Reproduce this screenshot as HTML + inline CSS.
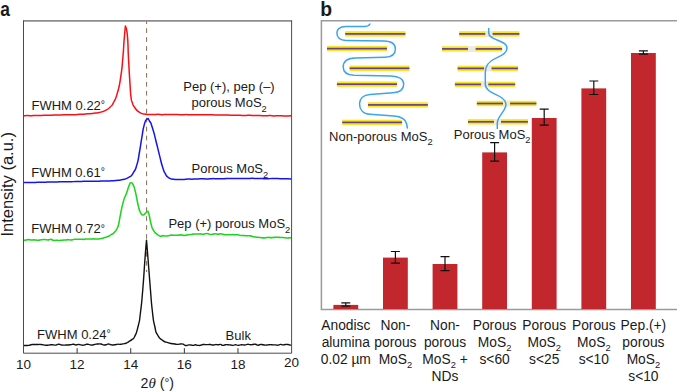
<!DOCTYPE html>
<html><head><meta charset="utf-8"><title>figure</title>
<style>
html,body{margin:0;padding:0;background:#fff;}
body{width:677px;height:391px;overflow:hidden;}
svg{display:block;}
text{font-family:"Liberation Sans",sans-serif;fill:#1a1a1a;}
.t13{font-size:13px;}
.tk{font-size:13.5px;}
.bl{font-size:13.8px;}
.sub{font-size:9.3px;}
</style></head><body>
<svg width="677" height="391" viewBox="0 0 677 391">
<rect width="677" height="391" fill="#fff"/>

<text transform="translate(0.3,15.5) scale(0.87,1.03)" font-size="20" font-weight="bold" fill="#000">a</text>
<text transform="translate(320.2,15.5) scale(0.97,1.03)" font-size="20" font-weight="bold" fill="#000">b</text>
<line x1="146.6" y1="21" x2="146.6" y2="272" stroke="#8a6b52" stroke-width="1" stroke-dasharray="4.7 4.25" stroke-dashoffset="1.7"/>
<path d="M23.50,115.75 C24.83,115.70 24.83,115.63 27.50,115.61 C30.17,115.58 28.83,115.74 31.50,115.67 C34.17,115.60 32.83,115.48 35.50,115.41 C38.17,115.34 36.83,115.49 39.50,115.46 C42.17,115.43 40.83,115.43 43.50,115.32 C46.17,115.22 44.83,115.19 47.50,115.14 C50.17,115.10 48.83,115.25 51.50,115.19 C54.17,115.13 52.83,115.03 55.50,114.96 C58.17,114.89 56.83,115.05 59.50,114.99 C62.17,114.93 60.83,114.88 63.50,114.78 C66.17,114.67 64.83,114.71 67.50,114.67 C70.17,114.64 68.83,114.66 71.50,114.66 C74.17,114.66 72.83,114.78 75.50,114.68 C78.17,114.57 76.83,114.53 79.50,114.36 C82.17,114.18 80.83,114.32 83.50,114.16 C86.17,114.00 84.83,114.08 87.50,113.87 C90.17,113.67 88.83,113.84 91.50,113.56 C94.17,113.28 93.33,113.31 95.50,113.04 C97.67,112.77 96.00,113.14 98.00,112.76 C100.00,112.38 98.97,112.72 101.50,111.90 C104.03,111.08 102.77,111.87 105.60,110.30 C108.43,108.73 107.27,109.97 110.00,107.20 C112.73,104.43 111.23,107.13 113.80,102.00 C116.37,96.87 115.37,100.33 117.70,91.80 C120.03,83.27 119.10,87.50 120.80,76.40 C122.50,65.30 121.70,70.47 122.80,58.50 C123.90,46.53 123.23,51.37 124.10,40.50 C124.97,29.63 124.97,30.77 125.40,25.90 L125.40,25.90 C126.07,29.13 126.37,24.73 127.40,35.60 C128.43,46.47 127.63,42.37 128.50,58.50 C129.37,74.63 129.17,71.17 130.00,84.00 C130.83,96.83 130.23,90.83 131.00,97.00 C131.77,103.17 131.17,99.17 132.30,102.50 C133.43,105.83 132.00,103.73 134.40,107.00 C136.80,110.27 135.67,109.87 139.50,112.30 C143.33,114.73 142.40,113.60 145.90,114.30 C149.40,115.00 147.30,114.30 150.00,114.40 C152.70,114.50 151.33,114.62 154.00,114.60 C156.67,114.59 155.33,114.34 158.00,114.35 C160.67,114.36 159.33,114.58 162.00,114.63 C164.67,114.67 163.33,114.54 166.00,114.49 C168.67,114.43 167.33,114.47 170.00,114.47 C172.67,114.47 171.33,114.46 174.00,114.49 C176.67,114.53 175.33,114.49 178.00,114.58 C180.67,114.67 179.33,114.75 182.00,114.76 C184.67,114.77 183.33,114.60 186.00,114.60 C188.67,114.60 187.33,114.68 190.00,114.75 C192.67,114.82 191.33,114.80 194.00,114.80 C196.67,114.80 195.33,114.73 198.00,114.75 C200.67,114.76 199.33,114.84 202.00,114.84 C204.67,114.84 203.33,114.76 206.00,114.74 C208.67,114.72 207.33,114.74 210.00,114.79 C212.67,114.83 211.33,114.79 214.00,114.88 C216.67,114.97 215.33,115.02 218.00,115.07 C220.67,115.12 219.33,115.05 222.00,115.04 C224.67,115.04 223.33,115.01 226.00,115.06 C228.67,115.10 227.33,115.14 230.00,115.19 C232.67,115.23 231.33,115.19 234.00,115.19 C236.67,115.20 235.33,115.13 238.00,115.20 C240.67,115.26 239.33,115.32 242.00,115.39 C244.67,115.46 243.33,115.43 246.00,115.41 C248.67,115.39 247.33,115.30 250.00,115.32 C252.67,115.35 251.33,115.41 254.00,115.48 C256.67,115.55 255.33,115.45 258.00,115.52 C260.67,115.59 259.33,115.63 262.00,115.69 C264.67,115.74 263.33,115.72 266.00,115.70 C268.67,115.68 267.33,115.56 270.00,115.62 C272.67,115.69 271.33,115.87 274.00,115.89 C276.67,115.91 275.33,115.71 278.00,115.69 C280.67,115.67 279.33,115.73 282.00,115.84 C284.67,115.94 283.33,115.98 286.00,116.00 C288.67,116.01 288.13,115.87 290.00,115.87 C291.87,115.87 291.07,115.96 291.60,116.00" fill="none" stroke="#fa0f14" stroke-width="1.5" stroke-linejoin="round" stroke-linecap="butt"/>
<path d="M23.50,182.60 C24.83,182.53 24.83,182.45 27.50,182.41 C30.17,182.37 28.83,182.47 31.50,182.47 C34.17,182.48 32.83,182.48 35.50,182.42 C38.17,182.35 36.83,182.33 39.50,182.29 C42.17,182.24 40.83,182.35 43.50,182.28 C46.17,182.20 44.83,182.13 47.50,182.06 C50.17,181.99 48.83,182.10 51.50,182.07 C54.17,182.03 52.83,182.02 55.50,181.96 C58.17,181.90 56.83,181.94 59.50,181.87 C62.17,181.81 60.83,181.80 63.50,181.76 C66.17,181.73 64.83,181.79 67.50,181.77 C70.17,181.76 68.83,181.80 71.50,181.72 C74.17,181.64 72.83,181.61 75.50,181.53 C78.17,181.46 76.83,181.59 79.50,181.51 C82.17,181.42 80.83,181.33 83.50,181.29 C86.17,181.24 84.83,181.37 87.50,181.37 C90.17,181.36 88.83,181.30 91.50,181.28 C94.17,181.25 92.83,181.32 95.50,181.29 C98.17,181.25 96.83,181.28 99.50,181.17 C102.17,181.06 100.83,181.05 103.50,180.97 C106.17,180.88 106.00,180.93 107.50,180.92 C109.00,180.90 107.23,180.94 108.00,180.93 C108.77,180.93 107.13,181.08 109.80,180.90 C112.47,180.72 112.07,180.80 116.00,180.40 C119.93,180.00 117.37,180.70 121.60,179.70 C125.83,178.70 124.77,179.77 128.70,177.40 C132.63,175.03 130.63,176.93 133.40,172.60 C136.17,168.27 135.00,171.10 137.00,164.40 C139.00,157.70 137.83,161.17 139.40,152.50 C140.97,143.83 140.13,147.43 141.70,138.40 C143.27,129.37 142.37,131.77 144.10,125.40 C145.83,119.03 145.10,120.77 146.90,119.30 C148.70,117.83 147.67,118.20 149.50,121.00 C151.33,123.80 150.27,121.13 152.40,127.70 C154.53,134.27 153.57,131.63 155.90,140.70 C158.23,149.77 157.20,146.23 159.40,154.90 C161.60,163.57 160.50,160.40 162.50,166.70 C164.50,173.00 163.27,170.10 165.40,173.80 C167.53,177.50 166.17,175.97 168.90,177.80 C171.63,179.63 169.90,178.77 173.60,179.30 C177.30,179.83 176.53,179.37 180.00,179.40 C183.47,179.43 181.33,179.50 184.00,179.39 C186.67,179.27 185.33,179.13 188.00,179.05 C190.67,178.97 189.33,179.18 192.00,179.14 C194.67,179.11 193.33,179.05 196.00,178.95 C198.67,178.85 197.33,178.91 200.00,178.85 C202.67,178.79 201.33,178.72 204.00,178.76 C206.67,178.81 205.33,179.02 208.00,178.99 C210.67,178.96 209.33,178.78 212.00,178.67 C214.67,178.56 213.33,178.66 216.00,178.66 C218.67,178.65 217.33,178.61 220.00,178.66 C222.67,178.70 221.33,178.87 224.00,178.79 C226.67,178.71 225.33,178.51 228.00,178.41 C230.67,178.32 229.33,178.48 232.00,178.50 C234.67,178.52 233.33,178.46 236.00,178.48 C238.67,178.50 237.33,178.53 240.00,178.55 C242.67,178.58 241.33,178.54 244.00,178.55 C246.67,178.56 245.33,178.64 248.00,178.58 C250.67,178.52 249.33,178.41 252.00,178.37 C254.67,178.32 253.33,178.42 256.00,178.44 C258.67,178.46 257.33,178.35 260.00,178.43 C262.67,178.52 261.33,178.57 264.00,178.68 C266.67,178.79 265.33,178.83 268.00,178.76 C270.67,178.70 269.33,178.56 272.00,178.50 C274.67,178.43 273.33,178.51 276.00,178.56 C278.67,178.61 277.33,178.59 280.00,178.64 C282.67,178.68 281.33,178.62 284.00,178.69 C286.67,178.76 285.47,178.78 288.00,178.85 C290.53,178.92 290.40,178.88 291.60,178.90" fill="none" stroke="#1414f0" stroke-width="1.5" stroke-linejoin="round" stroke-linecap="butt"/>
<path d="M23.50,240.29 C24.33,240.16 24.33,240.14 26.00,239.92 C27.67,239.69 26.83,239.59 28.50,239.61 C30.17,239.63 29.33,239.89 31.00,239.98 C32.67,240.07 31.83,239.89 33.50,239.88 C35.17,239.88 34.33,239.86 36.00,239.97 C37.67,240.08 36.83,240.27 38.50,240.22 C40.17,240.18 39.33,240.06 41.00,239.83 C42.67,239.59 41.83,239.56 43.50,239.52 C45.17,239.48 44.33,239.60 46.00,239.72 C47.67,239.84 46.83,240.00 48.50,239.88 C50.17,239.76 49.33,239.22 51.00,239.36 C52.67,239.51 51.83,240.01 53.50,240.32 C55.17,240.62 54.33,240.26 56.00,240.28 C57.67,240.31 56.83,240.38 58.50,240.40 C60.17,240.42 59.33,240.49 61.00,240.34 C62.67,240.20 61.83,240.08 63.50,239.96 C65.17,239.84 64.33,240.09 66.00,239.99 C67.67,239.89 66.83,239.62 68.50,239.65 C70.17,239.68 69.33,240.16 71.00,240.08 C72.67,239.99 71.83,239.66 73.50,239.40 C75.17,239.14 74.33,239.32 76.00,239.30 C77.67,239.28 76.83,239.36 78.50,239.33 C80.17,239.31 79.33,239.22 81.00,239.23 C82.67,239.24 81.83,239.43 83.50,239.37 C85.17,239.30 84.33,239.18 86.00,239.04 C87.67,238.89 86.83,238.94 88.50,238.94 C90.17,238.94 89.33,239.07 91.00,239.05 C92.67,239.02 91.83,238.88 93.50,238.86 C95.17,238.84 94.50,238.93 96.00,238.98 C97.50,239.03 96.67,239.07 98.00,239.01 C99.33,238.95 97.83,239.27 100.00,238.80 C102.17,238.33 101.83,238.40 104.50,237.60 C107.17,236.80 105.83,237.33 108.00,236.40 C110.17,235.47 108.83,236.17 111.00,234.80 C113.17,233.43 112.40,234.57 114.50,232.30 C116.60,230.03 115.87,230.93 117.30,228.00 C118.73,225.07 117.77,227.87 118.80,223.50 C119.83,219.13 118.90,222.10 120.40,214.90 C121.90,207.70 121.30,209.00 123.30,201.90 C125.30,194.80 124.43,199.10 126.40,193.60 C128.37,188.10 127.63,188.93 129.20,185.40 C130.77,181.87 129.70,183.00 131.10,183.00 C132.50,183.00 131.83,181.87 133.40,185.40 C134.97,188.93 134.20,186.90 135.80,193.60 C137.40,200.30 136.63,199.20 138.20,205.50 C139.77,211.80 138.93,209.37 140.50,212.50 C142.07,215.63 141.30,214.63 142.90,214.90 C144.50,215.17 143.87,214.33 145.30,213.30 C146.73,212.27 146.03,211.67 147.20,211.80 C148.37,211.93 147.47,209.50 148.80,213.70 C150.13,217.90 149.63,218.87 151.20,224.40 C152.77,229.93 151.53,227.00 153.50,230.30 C155.47,233.60 154.73,232.33 157.10,234.30 C159.47,236.27 158.63,235.76 160.60,236.20 C162.57,236.64 161.37,235.66 163.00,235.62 C164.63,235.58 163.83,236.07 165.50,236.09 C167.17,236.10 166.33,235.97 168.00,235.67 C169.67,235.36 168.83,235.33 170.50,235.18 C172.17,235.02 171.33,235.18 173.00,235.19 C174.67,235.20 173.83,235.21 175.50,235.20 C177.17,235.18 176.33,235.26 178.00,235.15 C179.67,235.04 178.83,234.81 180.50,234.87 C182.17,234.93 181.33,235.17 183.00,235.31 C184.67,235.45 183.83,235.48 185.50,235.29 C187.17,235.09 186.33,234.96 188.00,234.73 C189.67,234.50 188.83,234.80 190.50,234.60 C192.17,234.41 191.33,234.34 193.00,234.14 C194.67,233.95 193.83,234.04 195.50,234.02 C197.17,233.99 196.33,234.12 198.00,234.07 C199.67,234.02 198.83,233.80 200.50,233.87 C202.17,233.94 201.33,234.31 203.00,234.28 C204.67,234.24 203.83,233.97 205.50,233.77 C207.17,233.57 206.33,233.45 208.00,233.68 C209.67,233.91 208.83,234.30 210.50,234.45 C212.17,234.60 211.33,234.33 213.00,234.13 C214.67,233.93 213.83,233.83 215.50,233.85 C217.17,233.87 216.33,234.21 218.00,234.19 C219.67,234.17 218.83,233.78 220.50,233.80 C222.17,233.82 221.33,233.92 223.00,234.24 C224.67,234.56 223.83,234.56 225.50,234.75 C227.17,234.94 226.33,234.78 228.00,234.80 C229.67,234.83 228.83,234.88 230.50,234.82 C232.17,234.76 231.33,234.61 233.00,234.62 C234.67,234.63 233.83,234.78 235.50,234.85 C237.17,234.92 236.33,234.63 238.00,234.84 C239.67,235.04 238.83,235.27 240.50,235.47 C242.17,235.66 241.33,235.32 243.00,235.43 C244.67,235.53 243.83,235.69 245.50,235.77 C247.17,235.85 246.33,235.62 248.00,235.66 C249.67,235.69 248.83,235.54 250.50,235.88 C252.17,236.21 251.33,236.24 253.00,236.65 C254.67,237.05 253.83,236.88 255.50,237.09 C257.17,237.30 256.33,237.13 258.00,237.29 C259.67,237.44 258.83,237.37 260.50,237.55 C262.17,237.74 261.33,237.77 263.00,237.86 C264.67,237.94 263.83,237.95 265.50,237.80 C267.17,237.65 266.33,237.45 268.00,237.40 C269.67,237.35 268.83,237.60 270.50,237.64 C272.17,237.68 271.33,237.64 273.00,237.52 C274.67,237.40 273.83,237.35 275.50,237.27 C277.17,237.19 276.33,237.20 278.00,237.27 C279.67,237.35 278.83,237.42 280.50,237.48 C282.17,237.55 281.33,237.36 283.00,237.48 C284.67,237.59 283.83,237.64 285.50,237.83 C287.17,238.02 286.33,238.11 288.00,238.05 C289.67,237.99 289.30,237.77 290.50,237.65 C291.70,237.54 291.23,237.68 291.60,237.70" fill="none" stroke="#1fd41f" stroke-width="1.55" stroke-linejoin="round" stroke-linecap="butt"/>
<path d="M23.50,345.42 C24.33,345.44 24.33,345.47 26.00,345.47 C27.67,345.47 26.83,345.68 28.50,345.42 C30.17,345.16 29.33,345.00 31.00,344.69 C32.67,344.39 31.83,344.57 33.50,344.51 C35.17,344.44 34.33,344.52 36.00,344.50 C37.67,344.48 36.83,344.47 38.50,344.45 C40.17,344.43 39.33,344.28 41.00,344.44 C42.67,344.60 41.83,344.66 43.50,344.93 C45.17,345.20 44.33,345.17 46.00,345.25 C47.67,345.33 46.83,345.34 48.50,345.16 C50.17,344.98 49.33,344.80 51.00,344.72 C52.67,344.63 51.83,344.79 53.50,344.91 C55.17,345.03 54.33,345.31 56.00,345.07 C57.67,344.83 56.83,344.26 58.50,344.20 C60.17,344.13 59.33,344.55 61.00,344.87 C62.67,345.19 61.83,345.12 63.50,345.16 C65.17,345.20 64.33,345.06 66.00,344.99 C67.67,344.92 66.83,345.07 68.50,344.94 C70.17,344.81 69.33,344.84 71.00,344.60 C72.67,344.36 71.83,344.11 73.50,344.22 C75.17,344.34 74.33,344.89 76.00,344.94 C77.67,344.99 76.83,344.38 78.50,344.38 C80.17,344.37 79.33,344.68 81.00,344.93 C82.67,345.17 81.83,345.29 83.50,345.12 C85.17,344.94 84.33,344.65 86.00,344.41 C87.67,344.17 86.83,344.19 88.50,344.40 C90.17,344.61 89.33,344.92 91.00,345.04 C92.67,345.16 91.83,345.08 93.50,344.76 C95.17,344.44 94.33,344.33 96.00,344.08 C97.67,343.83 96.83,344.03 98.50,344.02 C100.17,344.00 99.33,343.73 101.00,344.03 C102.67,344.33 101.83,344.67 103.50,344.92 C105.17,345.17 104.33,345.10 106.00,344.79 C107.67,344.47 106.83,343.98 108.50,343.98 C110.17,343.98 109.33,344.46 111.00,344.78 C112.67,345.11 111.83,345.03 113.50,344.95 C115.17,344.87 114.33,344.81 116.00,344.55 C117.67,344.29 117.17,344.24 118.50,344.17 C119.83,344.10 118.53,344.43 120.00,344.34 C121.47,344.25 120.73,344.35 122.90,343.90 C125.07,343.45 124.53,343.77 126.50,343.00 C128.47,342.23 127.03,342.73 128.80,341.60 C130.57,340.47 129.83,341.30 131.80,339.60 C133.77,337.90 132.57,341.03 134.70,336.50 C136.83,331.97 136.23,334.33 138.20,326.00 C140.17,317.67 139.03,324.17 140.60,311.50 C142.17,298.83 141.43,305.67 142.90,288.00 C144.37,270.33 143.80,274.43 145.00,258.50 C146.20,242.57 146.00,246.30 146.50,240.20 L146.50,240.20 C147.00,246.30 146.73,242.57 148.00,258.50 C149.27,274.43 148.83,270.33 150.30,288.00 C151.77,305.67 150.93,298.83 152.40,311.50 C153.87,324.17 152.97,318.17 154.70,326.00 C156.43,333.83 154.97,330.23 157.60,335.00 C160.23,339.77 158.97,337.70 162.60,340.30 C166.23,342.90 164.37,341.57 168.50,342.80 C172.63,344.03 171.83,343.49 175.00,344.00 C178.17,344.51 176.17,344.31 178.00,344.33 C179.83,344.35 178.83,344.12 180.50,344.05 C182.17,343.99 181.33,343.67 183.00,344.14 C184.67,344.61 183.83,345.15 185.50,345.46 C187.17,345.78 186.33,345.26 188.00,345.08 C189.67,344.90 188.83,344.81 190.50,344.93 C192.17,345.04 191.33,345.45 193.00,345.41 C194.67,345.37 193.83,344.84 195.50,344.81 C197.17,344.78 196.33,345.18 198.00,345.33 C199.67,345.49 198.83,345.54 200.50,345.28 C202.17,345.01 201.33,344.77 203.00,344.54 C204.67,344.31 203.83,344.55 205.50,344.58 C207.17,344.61 206.33,344.64 208.00,344.63 C209.67,344.62 208.83,344.45 210.50,344.56 C212.17,344.68 211.33,344.97 213.00,344.98 C214.67,344.98 213.83,344.65 215.50,344.58 C217.17,344.51 216.33,344.82 218.00,344.77 C219.67,344.72 218.83,344.23 220.50,344.42 C222.17,344.62 221.33,345.27 223.00,345.36 C224.67,345.44 223.83,344.87 225.50,344.69 C227.17,344.50 226.33,344.72 228.00,344.81 C229.67,344.90 228.83,344.78 230.50,344.96 C232.17,345.13 231.33,345.41 233.00,345.34 C234.67,345.27 233.83,344.75 235.50,344.76 C237.17,344.76 236.33,345.32 238.00,345.35 C239.67,345.38 238.83,345.01 240.50,344.85 C242.17,344.69 241.33,344.88 243.00,344.88 C244.67,344.89 243.83,345.08 245.50,344.87 C247.17,344.66 246.33,344.30 248.00,344.26 C249.67,344.23 248.83,344.70 250.50,344.77 C252.17,344.83 251.33,344.63 253.00,344.46 C254.67,344.28 253.83,343.99 255.50,344.24 C257.17,344.48 256.33,345.12 258.00,345.19 C259.67,345.26 258.83,344.57 260.50,344.44 C262.17,344.30 261.33,344.58 263.00,344.80 C264.67,345.01 263.83,345.06 265.50,345.09 C267.17,345.13 266.33,345.05 268.00,344.89 C269.67,344.73 268.83,344.63 270.50,344.61 C272.17,344.59 271.33,344.75 273.00,344.84 C274.67,344.93 273.83,344.78 275.50,344.88 C277.17,344.99 276.33,345.34 278.00,345.15 C279.67,344.97 278.83,344.43 280.50,344.34 C282.17,344.25 281.33,344.83 283.00,344.88 C284.67,344.94 283.83,344.62 285.50,344.50 C287.17,344.39 286.33,344.33 288.00,344.54 C289.67,344.74 289.30,345.04 290.50,345.13 C291.70,345.22 291.23,344.91 291.60,344.80" fill="none" stroke="#111111" stroke-width="1.4" stroke-linejoin="round" stroke-linecap="butt"/>
<line x1="23.0" y1="20.900000000000002" x2="292.1" y2="20.900000000000002" stroke="#8c8c8c" stroke-width="1.6"/>
<path d="M23.5,20.6 V353.2 H291.6 V20.6" fill="none" stroke="#4a4a4a" stroke-width="1"/>
<line x1="77.12" y1="353.2" x2="77.12" y2="348.2" stroke="#333" stroke-width="1"/>
<line x1="130.74" y1="353.2" x2="130.74" y2="348.2" stroke="#333" stroke-width="1"/>
<line x1="184.36" y1="353.2" x2="184.36" y2="348.2" stroke="#333" stroke-width="1"/>
<line x1="237.98" y1="353.2" x2="237.98" y2="348.2" stroke="#333" stroke-width="1"/>
<text class="tk" x="23.50" y="369" text-anchor="middle">10</text>
<text class="tk" x="77.12" y="369" text-anchor="middle">12</text>
<text class="tk" x="130.74" y="369" text-anchor="middle">14</text>
<text class="tk" x="184.36" y="369" text-anchor="middle">16</text>
<text class="tk" x="237.98" y="369" text-anchor="middle">18</text>
<text class="tk" x="291.5" y="366.8" text-anchor="middle">20</text>
<text x="140.6" y="387.7" font-size="14.2">2<tspan font-family="Liberation Serif" font-style="italic" font-size="15">θ</tspan> (<tspan font-size="12" dy="-1">°</tspan><tspan dy="1">)</tspan></text>
<text transform="translate(12.6,236.6) rotate(-90)" font-size="16.5">Intensity (a.u.)</text>
<text class="t13" x="31.5" y="110">FWHM 0.22<tspan font-size="10.5" dy="-1.9">°</tspan></text>
<text class="t13" x="31.3" y="176.9">FWHM 0.61<tspan font-size="10.5" dy="-1.9">°</tspan></text>
<text class="t13" x="31.3" y="233.4">FWHM 0.72<tspan font-size="10.5" dy="-1.9">°</tspan></text>
<text class="t13" x="37.1" y="338.9">FWHM 0.24<tspan font-size="10.5" dy="-1.9">°</tspan></text>
<text class="t13" x="229" y="91.4" text-anchor="middle">Pep (+), pep (–)</text>
<text class="t13" x="191.5" y="107.3">porous MoS<tspan class="sub" dy="4.3">2</tspan></text>
<text class="t13" x="191.5" y="173.3">Porous MoS<tspan class="sub" dy="4.3">2</tspan></text>
<text class="t13" x="168.4" y="228.3">Pep (+) porous MoS<tspan class="sub" dy="4.3">2</tspan></text>
<text class="t13" x="225.6" y="339.8">Bulk</text>
<path d="M677,20.7 H321.4 V309.5 H677" fill="none" stroke="#9a9a9a" stroke-width="1.5"/>
<rect x="333.40" y="304.90" width="24.8" height="4.10" fill="#c1272d"/>
<path d="M341.30,302.80 H350.30 M345.80,302.80 V306.20 M341.30,306.20 H350.30" stroke="#111" stroke-width="1.2" fill="none"/>
<rect x="383.00" y="257.60" width="24.8" height="51.40" fill="#c1272d"/>
<path d="M390.90,251.50 H399.90 M395.40,251.50 V263.20 M390.90,263.20 H399.90" stroke="#111" stroke-width="1.2" fill="none"/>
<rect x="432.60" y="264.00" width="24.8" height="45.00" fill="#c1272d"/>
<path d="M440.50,256.60 H449.50 M445.00,256.60 V270.60 M440.50,270.60 H449.50" stroke="#111" stroke-width="1.2" fill="none"/>
<rect x="482.20" y="152.40" width="24.8" height="156.60" fill="#c1272d"/>
<path d="M490.10,142.60 H499.10 M494.60,142.60 V161.10 M490.10,161.10 H499.10" stroke="#111" stroke-width="1.2" fill="none"/>
<rect x="531.80" y="118.00" width="24.8" height="191.00" fill="#c1272d"/>
<path d="M539.70,109.20 H548.70 M544.20,109.20 V125.20 M539.70,125.20 H548.70" stroke="#111" stroke-width="1.2" fill="none"/>
<rect x="581.40" y="88.40" width="24.8" height="220.60" fill="#c1272d"/>
<path d="M589.30,81.00 H598.30 M593.80,81.00 V94.50 M589.30,94.50 H598.30" stroke="#111" stroke-width="1.2" fill="none"/>
<rect x="631.00" y="53.00" width="24.8" height="256.00" fill="#c1272d"/>
<path d="M638.90,50.80 H647.90 M643.40,50.80 V54.20 M638.90,54.20 H647.90" stroke="#111" stroke-width="1.2" fill="none"/>
<text class="bl" x="345.80" y="329.60" text-anchor="middle">Anodisc</text>
<text class="bl" x="345.80" y="346.65" text-anchor="middle">alumina</text>
<text class="bl" x="345.80" y="363.70" text-anchor="middle">0.02 µm</text>
<text class="bl" x="395.40" y="329.60" text-anchor="middle">Non-</text>
<text class="bl" x="395.40" y="346.65" text-anchor="middle">porous</text>
<text class="bl" x="395.40" y="363.70" text-anchor="middle">MoS<tspan class="sub" dy="4.4">2</tspan></text>
<text class="bl" x="445.00" y="329.60" text-anchor="middle">Non-</text>
<text class="bl" x="445.00" y="346.65" text-anchor="middle">porous</text>
<text class="bl" x="445.00" y="363.70" text-anchor="middle">MoS<tspan class="sub" dy="4.4">2</tspan><tspan dy="-4.4">&#160;+</tspan></text>
<text class="bl" x="445.00" y="380.75" text-anchor="middle">NDs</text>
<text class="bl" x="494.60" y="329.60" text-anchor="middle">Porous</text>
<text class="bl" x="494.60" y="346.65" text-anchor="middle">MoS<tspan class="sub" dy="4.4">2</tspan></text>
<text class="bl" x="494.60" y="363.70" text-anchor="middle">s&lt;60</text>
<text class="bl" x="544.20" y="329.60" text-anchor="middle">Porous</text>
<text class="bl" x="544.20" y="346.65" text-anchor="middle">MoS<tspan class="sub" dy="4.4">2</tspan></text>
<text class="bl" x="544.20" y="363.70" text-anchor="middle">s&lt;25</text>
<text class="bl" x="593.80" y="329.60" text-anchor="middle">Porous</text>
<text class="bl" x="593.80" y="346.65" text-anchor="middle">MoS<tspan class="sub" dy="4.4">2</tspan></text>
<text class="bl" x="593.80" y="363.70" text-anchor="middle">s&lt;10</text>
<text class="bl" x="643.40" y="329.60" text-anchor="middle">Pep.(+)</text>
<text class="bl" x="643.40" y="346.65" text-anchor="middle">porous</text>
<text class="bl" x="643.40" y="363.70" text-anchor="middle">MoS<tspan class="sub" dy="4.4">2</tspan></text>
<text class="bl" x="643.40" y="380.75" text-anchor="middle">s&lt;10</text>
<rect x="345.20" y="31.20" width="60.20" height="5.4" fill="#f7e81c"/><rect x="345.20" y="33.05" width="60.20" height="1.7" fill="#6a3d98"/>
<rect x="327.00" y="45.90" width="60.00" height="5.4" fill="#f7e81c"/><rect x="327.00" y="47.75" width="60.00" height="1.7" fill="#6a3d98"/>
<rect x="349.60" y="65.60" width="59.80" height="5.4" fill="#f7e81c"/><rect x="349.60" y="67.45" width="59.80" height="1.7" fill="#6a3d98"/>
<rect x="336.90" y="81.50" width="60.10" height="5.4" fill="#f7e81c"/><rect x="336.90" y="83.35" width="60.10" height="1.7" fill="#6a3d98"/>
<rect x="368.00" y="102.20" width="59.90" height="5.4" fill="#f7e81c"/><rect x="368.00" y="104.05" width="59.90" height="1.7" fill="#6a3d98"/>
<rect x="342.20" y="119.70" width="59.90" height="5.4" fill="#f7e81c"/><rect x="342.20" y="121.55" width="59.90" height="1.7" fill="#6a3d98"/>
<rect x="459.20" y="31.20" width="60.20" height="5.4" fill="#f7e81c"/><rect x="459.20" y="33.05" width="60.20" height="1.7" fill="#6a3d98"/><rect x="485.30" y="31.00" width="7.30" height="5.8" fill="#f1eadf"/>
<rect x="442.00" y="46.20" width="60.10" height="5.4" fill="#f7e81c"/><rect x="442.00" y="48.05" width="60.10" height="1.7" fill="#6a3d98"/><rect x="468.00" y="46.00" width="7.60" height="5.8" fill="#f1eadf"/>
<rect x="457.60" y="65.70" width="60.40" height="5.4" fill="#f7e81c"/><rect x="457.60" y="67.55" width="60.40" height="1.7" fill="#6a3d98"/><rect x="484.10" y="65.50" width="7.40" height="5.8" fill="#f1eadf"/>
<rect x="454.90" y="81.70" width="60.30" height="5.4" fill="#f7e81c"/><rect x="454.90" y="83.55" width="60.30" height="1.7" fill="#6a3d98"/><rect x="481.10" y="81.50" width="7.20" height="5.8" fill="#f1eadf"/>
<rect x="476.80" y="100.80" width="59.60" height="5.4" fill="#f7e81c"/><rect x="476.80" y="102.65" width="59.60" height="1.7" fill="#6a3d98"/><rect x="503.00" y="100.60" width="7.00" height="5.8" fill="#f1eadf"/>
<rect x="468.00" y="119.10" width="59.90" height="5.4" fill="#f7e81c"/><rect x="468.00" y="120.95" width="59.90" height="1.7" fill="#6a3d98"/><rect x="494.00" y="118.90" width="7.00" height="5.8" fill="#f1eadf"/>
<path d="M369.9,24 C369,26 367.5,26.3 365,26.4 L346,26.6 C339,26.8 336.8,29.5 336.9,33 C337,37.5 340,40.3 346,40.5 L384,41 C392,41.2 395.4,44.5 395.4,49 C395.4,54 392,57 385,57.3 L355,58 C347,58.3 343.2,62 343.2,67 C343.2,72 347,75 354,75.3 L391,76 C399,76.3 403.7,79.5 403.7,84.2 C403.7,89.5 400,92.3 393,92.8 L370,94.4 C363,95 359.5,99 359.5,103.8 C359.5,109.5 363,113.8 370,114.3 L394,116 C401,116.6 405.5,119.5 406.5,123.5 L407.4,128" fill="none" stroke="#3aa5ea" stroke-width="1.5" stroke-linecap="round"/>
<path d="M488.7,28.4 L488.7,33 C488.7,40 504,40 506.5,46 C508,50 506,54 497,57.6 C489,61 485.3,65 485.3,72.6 L485.3,84 C485.3,92 497,94 502,98 C506,101 506.5,104 505.5,107 C503.5,113 497.3,117 497.3,123 L497.3,128.4" fill="none" stroke="#3aa5ea" stroke-width="1.5" stroke-linecap="round"/>
<text class="t13" x="329.1" y="140.5">Non-porous MoS<tspan class="sub" dy="4.3">2</tspan></text>
<text class="t13" x="453.8" y="138.8">Porous MoS<tspan class="sub" dy="4.3">2</tspan></text>
</svg></body></html>
